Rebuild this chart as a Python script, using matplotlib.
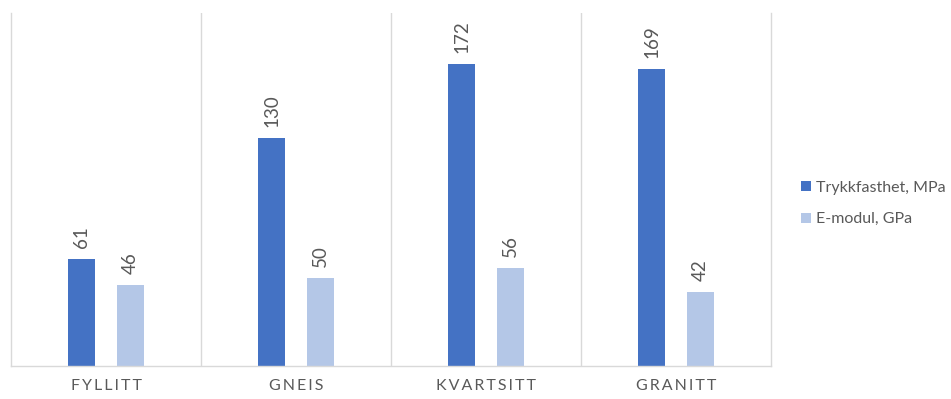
import matplotlib
matplotlib.use("Agg")
import matplotlib.pyplot as plt
import numpy as np

categories = ["FYLLITT", "GNEIS", "KVARTSITT", "GRANITT"]
trykkfasthet = [61, 130, 172, 169]
e_modul = [46, 50, 56, 42]
series_names = ["Trykkfasthet, MPa", "E-modul, GPa"]
colors = ["#4472C4", "#B4C7E7"]

plt.rcParams["font.family"] = ["Lato", "DejaVu Sans"]
text_color = "#595959"
grid_color = "#D9D9D9"

fig = plt.figure(figsize=(9.51, 3.99), dpi=100)
ax = fig.add_axes([11 / 951, 33 / 399, 760 / 951, 353 / 399])

x = np.arange(len(categories))
width = 0.137
offset = 0.129

bars1 = ax.bar(x - offset, trykkfasthet, width, color=colors[0], label=series_names[0])
bars2 = ax.bar(x + offset, e_modul, width, color=colors[1], label=series_names[1])

for bars in (bars1, bars2):
    for b in bars:
        ax.annotate(f"{b.get_height():g}",
                    (b.get_x() + b.get_width() / 2, b.get_height()),
                    xytext=(0, 8), textcoords="offset points",
                    rotation=90, ha="center", va="bottom",
                    fontsize=13.5, color=text_color)

ax.set_xlim(-0.5, len(categories) - 0.5)
ax.set_ylim(0, 201)

# Category separators
for sep in np.arange(0.5, len(categories) - 0.5, 1):
    ax.axvline(sep, color=grid_color, lw=1, zorder=0)

for side in ("left", "right", "bottom"):
    ax.spines[side].set_color(grid_color)
    ax.spines[side].set_linewidth(1)
ax.spines["top"].set_visible(False)

ax.set_yticks([])
ax.set_xticks(x)
ax.set_xticklabels(["\u2009".join(c) for c in categories], fontsize=11.5, color=text_color)
ax.tick_params(axis="x", length=0, pad=9)

fig.legend(handles=[bars1, bars2], labels=series_names,
           loc="center left", bbox_to_anchor=(790 / 951, 0.49),
           frameon=False, fontsize=11.5, labelcolor=text_color,
           handlelength=0.6, handleheight=0.6, handletextpad=0.35,
           labelspacing=1.1, borderaxespad=0.3)

fig.savefig("out.png", dpi=100)
